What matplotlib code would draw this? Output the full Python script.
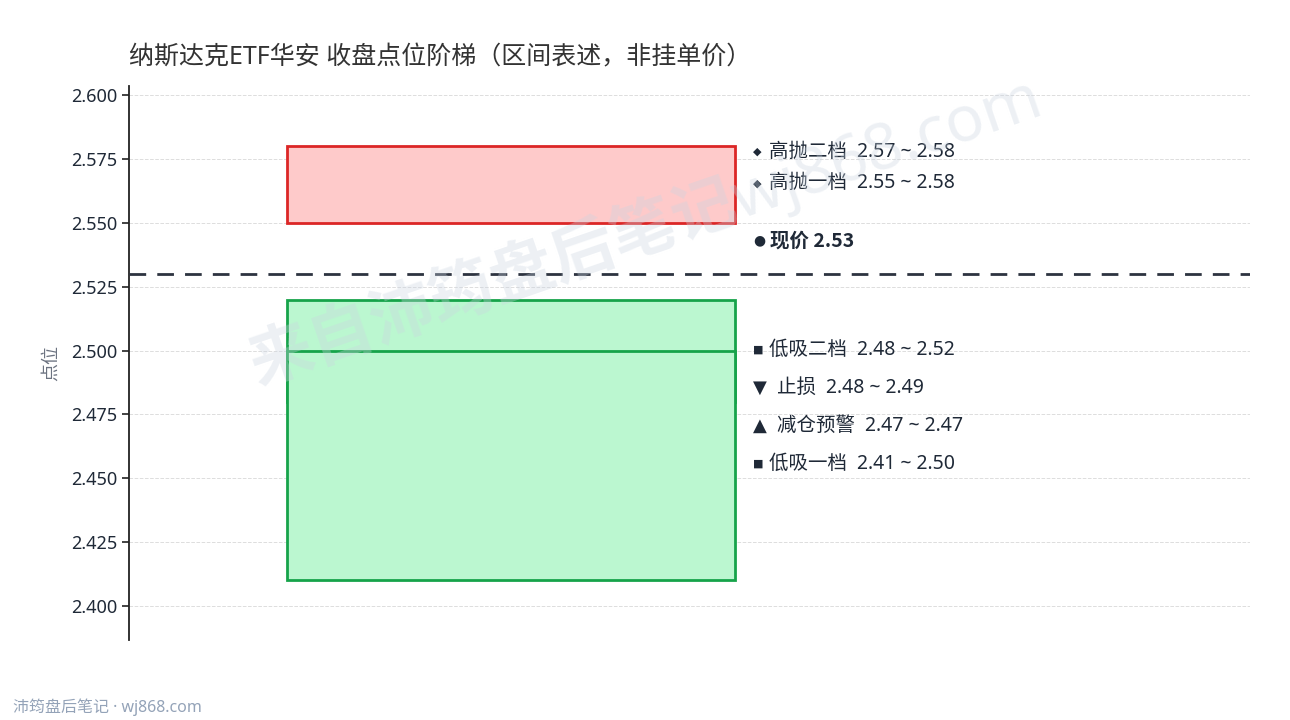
import matplotlib.pyplot as plt
from matplotlib.patches import Rectangle

plt.rcParams['font.family'] = ['Noto Sans', 'Noto Sans CJK SC', 'DejaVu Sans']

# 数据
title = '纳斯达克ETF华安 收盘点位阶梯（区间表述，非挂单价）'
current_price = 2.53
sell_zone = (2.55, 2.58)                    # 高抛区
buy_zones = [(2.48, 2.52), (2.41, 2.50)]    # 低吸二档, 低吸一档
label_marks = ['◆', '◆', '●', '■', '▼', '▲', '■']
label_names = ['高抛二档', '高抛一档', '现价', '低吸二档', '止损', '减仓预警', '低吸一档']
label_lo = [2.57, 2.55, 2.53, 2.48, 2.48, 2.47, 2.41]
label_hi = [2.58, 2.58, None, 2.52, 2.49, 2.47, 2.50]
yticks = [2.400, 2.425, 2.450, 2.475, 2.500, 2.525, 2.550, 2.575, 2.600]

# 标签错开后的纵向位置
label_y = [2.578, 2.5655, 2.5431, 2.5004, 2.4855, 2.4706, 2.4557]
mark_size = {'◆': 8, '●': 10, '■': 8, '▼': 13, '▲': 13}
text_x = {'◆': 0.571, '●': 0.572, '■': 0.571, '▼': 0.578, '▲': 0.578}

fig = plt.figure(figsize=(12.9, 7.2), dpi=100)
ax = fig.add_axes([0.1, 0.111, 0.869, 0.769])
ax.set_xlim(0, 1)
ax.set_ylim(2.3866, 2.6035)

# 网格
ax.set_yticks(yticks)
ax.set_yticklabels([f'{v:.3f}' for v in yticks], fontsize=13, color='#1f2937')
ax.grid(axis='y', color='#dddddd', linestyle='--', linewidth=0.7)
ax.set_xticks([])
for s in ['top', 'right', 'bottom']:
    ax.spines[s].set_visible(False)
ax.spines['left'].set_color('#222222')
ax.spines['left'].set_linewidth(1.3)
ax.tick_params(axis='y', length=5, width=1.2, color='#222222')
ax.set_ylabel('点位', fontsize=13, color='#6b7280', labelpad=8)

x0, x1 = 0.141, 0.541
# 高抛区
ax.add_patch(Rectangle((x0, sell_zone[0]), x1 - x0, sell_zone[1] - sell_zone[0],
                       facecolor='#fecaca', edgecolor='#dc2626', linewidth=2, zorder=3))
# 低吸区
for lo, hi in buy_zones:
    ax.add_patch(Rectangle((x0, lo), x1 - x0, hi - lo,
                           facecolor='#bbf7d0', edgecolor='#16a34a', linewidth=2,
                           zorder=3))

# 现价
ax.axhline(current_price, color='#2d3340', linestyle=(0, (6, 4)), linewidth=2, zorder=4)

# 右侧标签
tr = ax.get_yaxis_transform()
for mk, name, lo, hi, y in zip(label_marks, label_names, label_lo, label_hi, label_y):
    ax.text(0.5566, y, mk, fontsize=mark_size[mk], family='DejaVu Sans', color='#1f2937',
            va='center', ha='left', transform=tr, zorder=5)
    if hi is None:
        ax.text(text_x[mk], y, f'{name} {lo:.2f}', fontsize=14, fontweight='bold',
                family='Noto Sans CJK SC', color='#1f2937', va='center', ha='left',
                transform=tr, zorder=5)
    else:
        ax.text(text_x[mk], y, f'{name}  {lo:.2f} ~ {hi:.2f}', fontsize=14,
                color='#1f2937', va='center', ha='left', transform=tr, zorder=5)

fig.text(0.1, 0.92, title, fontsize=18, color='#333333', ha='left', va='center')

# 水印
fig.text(0.5, 0.68, '来自沛筠盘后笔记wj868.com', fontsize=46, fontweight='bold',
         color='#cbd5e1', alpha=0.35, rotation=19, ha='center', va='center', zorder=10)

fig.text(0.01, 0.018, '沛筠盘后笔记 · wj868.com', fontsize=11.5, color='#94a3b8',
         ha='left', va='center')

fig.savefig('out.png', dpi=100)
